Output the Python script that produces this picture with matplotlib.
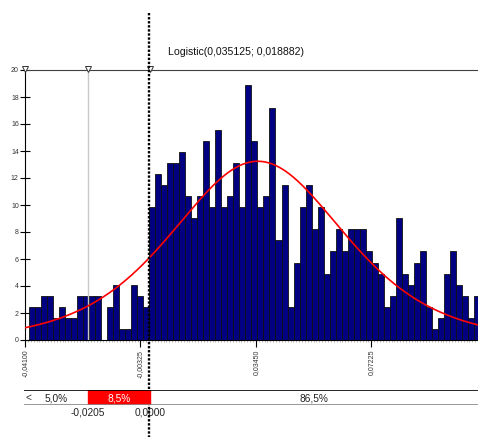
import numpy as np
import matplotlib
matplotlib.use('Agg')
import matplotlib.pyplot as plt
from matplotlib.transforms import blended_transform_factory

plt.rcParams['font.family'] = ['Liberation Sans', 'DejaVu Sans']

# fitted distribution (from the title)
fit_alpha = 0.035125
fit_beta = 0.018882

# histogram (density values)
bin_start = -0.03969
bin_width = 0.001966
heights = [2.46, 2.46, 3.28, 3.28, 1.64, 2.46, 1.64, 1.64, 3.28, 3.28,
           3.28, 3.28, 0.0, 2.46, 4.1, 0.82, 0.82, 4.1, 3.28, 2.46,
           9.84, 12.3, 11.48, 13.12, 13.12, 13.94, 10.66, 9.02, 10.66, 14.76,
           9.84, 15.58, 9.84, 10.66, 13.12, 9.84, 18.86, 14.76, 9.84, 10.66,
           17.22, 7.38, 11.48, 2.46, 5.74, 9.84, 11.48, 8.2, 9.84, 4.92,
           6.56, 8.2, 6.56, 8.2, 8.2, 8.2, 6.56, 5.74, 4.92, 2.46,
           3.28, 9.02, 4.92, 4.1, 5.74, 6.56, 2.46, 0.82, 1.64, 4.92,
           6.56, 4.1, 3.28, 1.64, 3.28]

xticks = [-0.041, -0.00325, 0.0345, 0.07225]
xtick_labels = ['-0,04100', '-0,00325', '0,03450', '0,07225']
yticks = [0, 2, 4, 6, 8, 10, 12, 14, 16, 18, 20]

x_min, x_max = -0.041, 0.10714
delim_left, delim_right = -0.0205, 0.0
delim_labels = ['-0,0205', '0,0000']
pct_labels = ['5,0%', '8,5%', '86,5%']
drag_line_x = -0.0006
title = 'Logistic(0,035125; 0,018882)'

W, H = 478, 437
fig = plt.figure(figsize=(W / 100, H / 100), dpi=100)
ax = fig.add_axes([25 / W, 1 - 340 / H, 453 / W, 270 / H])

lefts = bin_start + bin_width * np.arange(len(heights))
ax.bar(lefts, heights, width=bin_width, align='edge', color='#000080',
       edgecolor='#111111', linewidth=0.6, zorder=2)

xs = np.linspace(x_min, x_max, 400)
z = (xs - fit_alpha) / fit_beta
pdf = np.exp(-z) / (fit_beta * (1 + np.exp(-z)) ** 2)
ax.plot(xs, pdf, color='#ff0000', lw=1.2, zorder=4)

# left delimiter line
ax.plot([delim_left, delim_left], [0, 20], color='#c8c8c8', lw=1, zorder=3)

ax.set_xlim(x_min, x_max)
ax.set_ylim(0, 20)
ax.spines['right'].set_visible(False)
ax.spines['top'].set_color('#404040')
ax.spines['left'].set_color('black')
ax.spines['bottom'].set_color('black')

ax.set_yticks(yticks)
ax.set_yticklabels([str(v) for v in yticks])
ax.tick_params(axis='y', direction='inout', length=7, width=0.8,
               labelsize=5, pad=1, colors='black', labelcolor='#333333')
ax.set_xticks(xticks)
ax.set_xticklabels(xtick_labels, rotation=90)
ax.set_xticks(np.arange(x_min, x_max, (xticks[1] - xticks[0]) / 40), minor=True)
ax.tick_params(axis='x', which='major', direction='out', length=5, width=0.8,
               labelsize=5, pad=2, labelcolor='#333333')
ax.tick_params(axis='x', which='minor', direction='out', length=1.5,
               width=0.4, color='#888888')

# triangle markers on top line
ax.plot([x_min, delim_left, delim_right], [20.1, 20.1, 20.1], linestyle='none',
        marker='v', markersize=4.5, markerfacecolor='white',
        markeredgecolor='#333333', markeredgewidth=0.7, clip_on=False, zorder=6)

fig.text(168 / W, 1 - 52 / H, title, fontsize=7.6, ha='left', va='center',
         color='#111111')

# bottom delimiter bar
ax2 = fig.add_axes([24.3 / W, 1 - 405 / H, (W - 24.3) / W, 15 / H])
ax2.set_xlim(x_min - 0.7 / 3057.8, x_max)
ax2.set_ylim(0, 1)
ax2.axis('off')
ax2.axvspan(delim_left, delim_right, color='#ff0000', zorder=1)
ax2.axhline(1, color='black', lw=1.2, zorder=3)
ax2.axhline(0, color='#888888', lw=1.2, zorder=3)
ax2.text(x_min + 0.0003, 0.45, '<', fontsize=7.3, ha='left', va='center', color='#333333')
ax2.text((x_min + delim_left) / 2, 0.45, pct_labels[0], fontsize=7.3,
         ha='center', va='center', color='#222222')
ax2.text((delim_left + delim_right) / 2, 0.45, pct_labels[1], fontsize=7.3,
         ha='center', va='center', color='white')
ax2.text((delim_right + x_max) / 2, 0.45, pct_labels[2], fontsize=7.3,
         ha='center', va='center', color='#222222')
for xv, lab in zip([delim_left, delim_right], delim_labels):
    ax2.text(xv, -0.5, lab, fontsize=7.3, ha='center', va='center',
             color='#222222', clip_on=False)

# dotted drag line spanning whole figure height
tr = blended_transform_factory(ax.transData, fig.transFigure)
ax.plot([drag_line_x, drag_line_x], [1 - 12.7 / H, 0], transform=tr,
        color='black', lw=1.7, linestyle=(0, (1.0, 0.72)),
        dash_capstyle='butt', clip_on=False, zorder=10)

fig.savefig('out.png', dpi=100)
